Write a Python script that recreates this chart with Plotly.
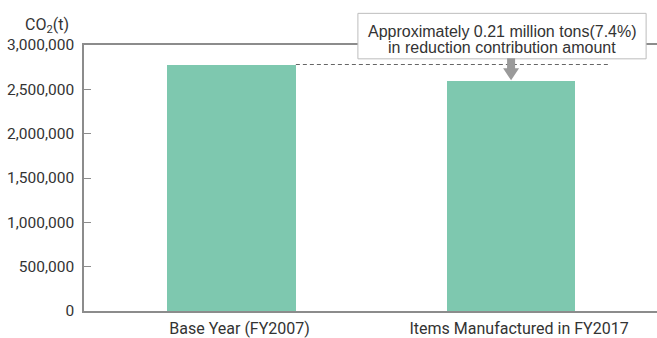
import plotly.graph_objects as go

categories = ["Base Year (FY2007)", "Items Manufactured in FY2017"]
values = [2780000, 2590000]
y_ticks = [0, 500000, 1000000, 1500000, 2000000, 2500000, 3000000]
note_lines = ["Approximately 0.21 million tons(7.4%)", "in reduction contribution amount"]
y_title = "CO<sub>2</sub>(t)"

bar_color = "#7ec8af"
axis_color = "#8c8c8c"
text_color = "#333333"
bar_width = 0.46

fig = go.Figure()
fig.add_trace(go.Bar(x=categories, y=values, width=bar_width,
                     marker=dict(color=bar_color, line=dict(width=0)),
                     hoverinfo="x+y"))

# dashed reference line from base-year bar top
fig.add_shape(type="line", xref="x", yref="y",
              x0=0 + bar_width / 2, x1=1.355, y0=values[0], y1=values[0],
              line=dict(color="#666666", width=1, dash="4px,3px"), layer="above")

# note box
fig.add_shape(type="rect", xref="paper", yref="paper",
              x0=0.478, x1=0.981, y0=0.948, y1=1.119,
              fillcolor="white", line=dict(color="#bdbdbd", width=1), layer="above")

# down arrow anchored to the FY2017 bar top
fig.add_shape(type="path", xref="x", yref="y", xsizemode="pixel", ysizemode="pixel",
              xanchor=1, yanchor=values[1],
              path="M 0 1 L -8 13 L -4 13 L -4 23 L 4 23 L 4 13 L 8 13 Z",
              fillcolor="#9a9a9a", line=dict(width=0), layer="above")

for txt, yy in zip(note_lines, [1.050, 0.991]):
    fig.add_annotation(text=txt, xref="paper", yref="paper", x=0.73, y=yy,
                       xanchor="center", yanchor="middle", showarrow=False,
                       font=dict(family="Liberation Sans, Arial", size=16, color=text_color))

fig.add_annotation(text=y_title, xref="paper", yref="paper", x=-0.022, y=1.026,
                   xanchor="right", yanchor="bottom", showarrow=False,
                   font=dict(family="Roboto", size=16, color=text_color))

fig.update_layout(
    width=657, height=338,
    margin=dict(l=84, r=0, t=45, b=24),
    paper_bgcolor="white", plot_bgcolor="white",
    showlegend=False, bargap=0,
    font=dict(family="Roboto", size=16, color=text_color),
)
fig.update_xaxes(type="category", range=[-0.528, 1.522], showgrid=False,
                 showline=True, linecolor=axis_color, linewidth=1.5, mirror=True,
                 ticks="", ticklabelshift=8, ticklabelstandoff=2,
                 tickfont=dict(family="Roboto", size=16, color=text_color))
fig.update_yaxes(range=[0, 3000000], tickvals=y_ticks, tickformat=",",
                 showgrid=False, zeroline=False,
                 showline=True, linecolor=axis_color, linewidth=1.5,
                 ticks="inside", ticklen=7, tickcolor=axis_color, tickwidth=1,
                 ticklabelstandoff=5,
                 tickfont=dict(family="Roboto", size=15.5, color=text_color))

fig.write_html("out.html")
